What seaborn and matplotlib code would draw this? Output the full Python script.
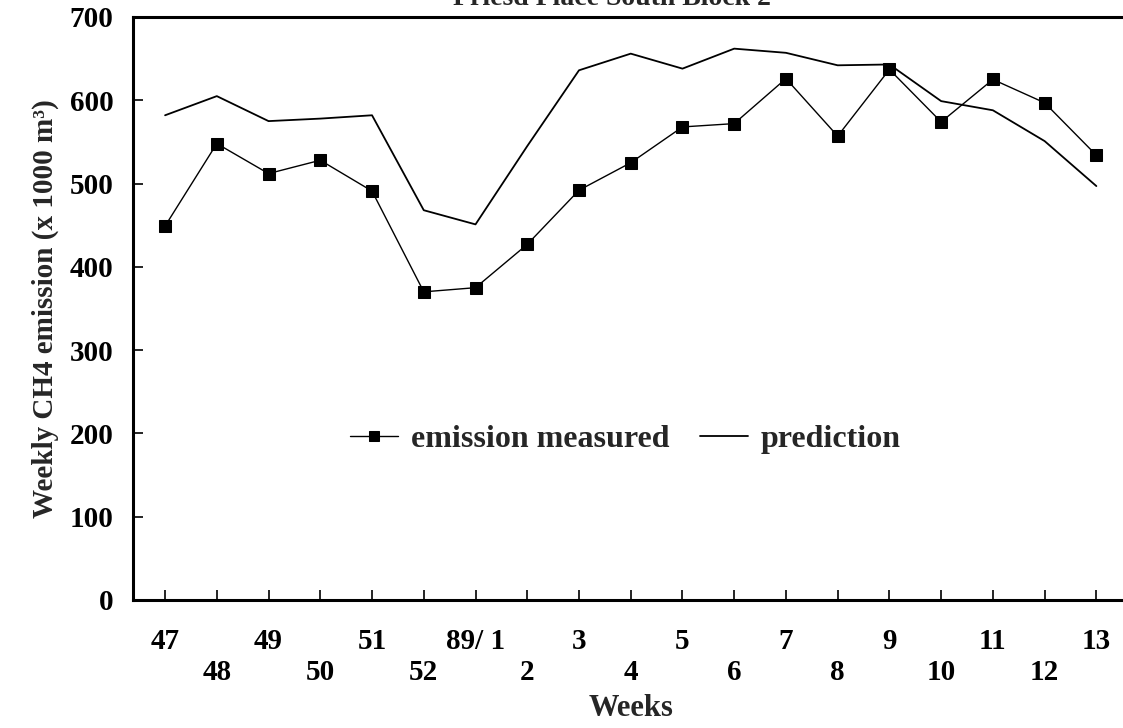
import matplotlib
matplotlib.use("Agg")
import matplotlib.pyplot as plt
import seaborn as sns
import pandas as pd
import numpy as np

weeks = ["47", "48", "49", "50", "51", "52", "89/ 1", "2", "3", "4", "5", "6",
         "7", "8", "9", "10", "11", "12", "13"]
measured = [449, 548, 512, 528, 491, 370, 375, 427, 492, 525, 568, 572,
            626, 557, 637, 574, 625, 597, 534]
prediction = [582, 605, 575, 578, 582, 468, 451, 545, 636, 656, 638, 662,
              657, 642, 643, 599, 588, 551, 497]
y_ticks = [0, 100, 200, 300, 400, 500, 600, 700]

sns.set_style("ticks")
plt.rcParams['font.family'] = ['Liberation Serif', 'DejaVu Serif']

df = pd.DataFrame({
    "idx": list(range(len(weeks))) * 2,
    "value": measured + prediction,
    "series": ["emission measured"] * len(weeks) + ["prediction"] * len(weeks),
})

fig = plt.figure(figsize=(11.23, 7.28), dpi=100)
ax = fig.add_axes([133 / 1123, (728 - 600) / 728, (1130 - 133) / 1123, (600 - 17) / 728])

sns.lineplot(data=df[df.series == "emission measured"], x="idx", y="value", ax=ax,
             color="black", linewidth=1.0, marker="s", markersize=9,
             markeredgecolor="black", markerfacecolor="black",
             label="emission measured")
sns.lineplot(data=df[df.series == "prediction"], x="idx", y="value", ax=ax,
             color="black", linewidth=1.3, label="prediction")

ax.set_xlim(-0.62, 18.65)
ax.set_ylim(0, 700)
ax.set_yticks(y_ticks)
ax.set_yticklabels([str(t) for t in y_ticks], fontsize=21, fontweight="bold")
ax.set_xticks(range(len(weeks)))
ax.set_xticklabels([w if i % 2 == 0 else "\n" + w for i, w in enumerate(weeks)],
                   fontsize=21, fontweight="bold", linespacing=1.2)
ax.tick_params(axis="both", direction="in", length=7, width=1.2, colors="black")
ax.tick_params(axis="x", pad=20)
ax.tick_params(axis="y", pad=14)

for s in ["left", "bottom", "top"]:
    ax.spines[s].set_linewidth(2.2)
    ax.spines[s].set_color("black")
ax.spines["right"].set_visible(False)

ax.set_xlabel("Weeks", fontsize=22, fontweight="bold", labelpad=6)
ax.set_ylabel("Weekly CH4 emission (x 1000 m³)", fontsize=21,
              fontweight="bold", labelpad=8)

leg = ax.legend(loc="center", bbox_to_anchor=(0.494, 0.276), ncol=2, frameon=False,
                prop={"weight": "bold", "size": 23}, handlelength=1.5,
                columnspacing=0.97, handletextpad=0.4)
for h in leg.legend_handles:
    h.set_markersize(7)

fig.text(0.545, 1.002, "Friesd Place South Block 2", ha="center", va="center",
         fontsize=20, fontweight="bold")

fig.savefig("out.png", dpi=100, facecolor="white")
